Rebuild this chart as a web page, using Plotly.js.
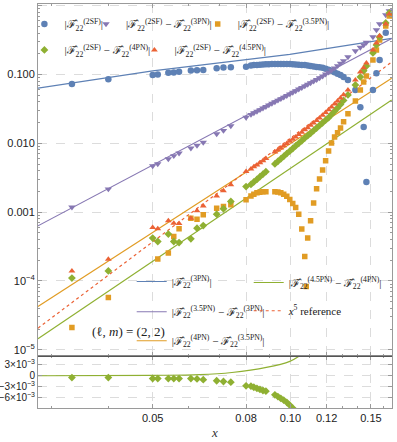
<!DOCTYPE html>
<html>
<head>
<meta charset="utf-8">
<script src="https://cdn.plot.ly/plotly-3.0.1.min.js"></script>
<style>
  html, body { margin: 0; padding: 0; background: #fff; }
  #chart { width: 397px; height: 442px; }
</style>
</head>
<body>
<div id="chart"></div>
<script>
// sample points of the self-force data (same x for every scatter series)
const xSF = [
  0.0333, 0.04, 0.05, 0.0513, 0.0541, 0.0556, 0.0571, 0.0606, 0.0625, 0.0645, 0.069, 0.0714, 0.0741, 0.08,
  0.082, 0.0832, 0.0845, 0.0858, 0.0871, 0.0884, 0.0897, 0.0911, 0.0925, 0.0939, 0.0953, 0.0967, 0.0982,
  0.0997, 0.1012, 0.1027, 0.1043, 0.1059, 0.1075, 0.1083, 0.1091, 0.1107, 0.1124, 0.1141, 0.1158, 0.1176,
  0.1194, 0.1212, 0.123, 0.1249, 0.1268, 0.1287, 0.1307,
  0.1336, 0.1387, 0.1422, 0.1446, 0.1466, 0.1515, 0.1542, 0.1567, 0.1616, 0.1645
];

// |F22(2SF)|
const abs2SF = [
  0.073, 0.0853, 0.098, 0.100, 0.106, 0.107, 0.110, 0.114, 0.115, 0.116, 0.123, 0.126, 0.127, 0.130,
  0.135, 0.137, 0.138, 0.139, 0.140, 0.141, 0.141, 0.142, 0.142, 0.142, 0.142, 0.142, 0.142,
  0.142, 0.141, 0.140, 0.139, 0.138, 0.137, null, 0.135, 0.133, 0.131, 0.129, 0.127, 0.125,
  0.121, 0.117, 0.113, 0.108, 0.103, 0.098, 0.092,
  0.0834, 0.0597, 0.0335, 0.0172, 0.00273, 0.0597, 0.104, 0.163, 0.405, null
];

// |F22(2SF) - F22(3PN)|
const diff3PN = [
  0.00118, 0.00216, 0.0047, 0.00502, 0.00594, 0.00657, 0.00719, 0.0085, 0.00933, 0.0103, 0.0137, 0.0153, 0.0179, 0.0238,
  0.0262, 0.0276, 0.0291, 0.0307, 0.0324, 0.0340, 0.0359, 0.0379, 0.0400, 0.0421, 0.0443, 0.0467, 0.0493,
  0.0520, 0.0549, 0.0577, 0.0611, 0.0644, 0.0680, null, 0.0717, 0.0754, 0.0796, 0.0842, 0.0891, 0.0947,
  0.1009, 0.1078, 0.1153, 0.1241, 0.1340, 0.1452, 0.1579,
  0.180, 0.220, 0.247, 0.269, 0.292, 0.351, 0.444, 0.542, 0.733, 0.838
];

// |F22(2SF) - F22(3.5PN)|
const diff35PN = [
  2.11e-5, 5.75e-5, null, 2.08e-4, 2.54e-4, 4.42e-4, 5.71e-4, 8.18e-4, 7.91e-4, 9.14e-4, 1.14e-3, 1.21e-3, 1.28e-3, 1.51e-3,
  0.00172, 0.00182, 0.00191, 0.00195, 0.00197, 0.00198, null, null, 0.00198, 0.00196, 0.00191, 0.00182, 0.00170,
  0.00153, 0.00134, 0.00117, 0.00093, 0.00057, 0.000226, 0.000083, 0.00042, 0.000747, 0.00136, 0.00218, 0.00304, 0.00411,
  0.00556, 0.00776, 0.0101, 0.0124, 0.0142, 0.0167, 0.0205,
  0.0268, 0.0413, 0.0597, 0.078, 0.0953, 0.163, 0.227, 0.318, 0.507, 0.709
];

// |F22(2SF) - F22(4PN)|
const diff4PN = [
  1.10e-4, 1.40e-4, 4.19e-4, 3.74e-4, 4.79e-4, 3.74e-4, 3.61e-4, 4.09e-4, 5.85e-4, 6.38e-4, 9.35e-4, 1.12e-3, 1.43e-3, 2.35e-3,
  0.00253, 0.00275, 0.00299, 0.00327, 0.00356, 0.00387, null, null, 0.00502, 0.00548, 0.00596, 0.00648, 0.00709,
  0.00771, 0.00841, 0.00915, 0.0100, 0.0109, 0.0119, null, 0.0129, 0.0140, 0.0153, 0.0167, 0.0182, 0.0199,
  0.0217, 0.0236, 0.0263, 0.0293, 0.0327, 0.0367, 0.0420,
  0.0505, 0.0705, 0.0922, 0.113, 0.133, 0.206, 0.269, 0.351, 0.561, 0.783
];

// |F22(2SF) - F22(4.5PN)|
const diff45PN = [
  1.40e-4, 2.07e-4, 5.97e-4, 5.71e-4, 7.47e-4, 6.91e-4, 6.83e-4, 8.18e-4, 1.05e-3, 1.23e-3, 1.72e-3, 2.04e-3, 2.49e-3, 3.88e-3,
  0.00425, 0.00455, 0.00486, 0.0052, 0.00559, 0.0060, null, null, 0.00746, 0.00802, 0.00858, 0.00924, 0.00994,
  0.0107, 0.0115, 0.0124, 0.0134, 0.0145, 0.0157, null, 0.0169, 0.0183, 0.0198, 0.0215, 0.0234, 0.0256,
  0.0280, 0.0308, 0.0338, 0.0374, 0.0413, 0.0457, 0.0508,
  0.0597, 0.0834, 0.109, 0.125, 0.147, 0.227, 0.287, 0.363, 0.542, 0.758
];

// lower panel: residual of the 4PN comparison
const resid4PN = [
  -0.0005, -0.0005, -0.0008, -0.0008, -0.0008, -0.0008, -0.0008, -0.0008, -0.0009, -0.0011, -0.0014, -0.0016, -0.0018, -0.0028,
  -0.0029, -0.0032, -0.0035, -0.0038, -0.0041, -0.0043, null, null, -0.0053, -0.0058, -0.0063, -0.0068, -0.0074,
  -0.0082, -0.0090, -0.0099
];

// PN curves
const xPN = [0.02807, 0.05, 0.0997, 0.1665];
const abs3PN = [0.0632, 0.1126, 0.1956, 0.336];
const xEnds = [0.02807, 0.1665];
const pn35minus3 = [6.32e-4, 0.334];
const pn4minus35 = [4.26e-5, 0.0883];
const pn45minus4 = [1.45e-5, 0.0427];
const x5ref = [2.06e-5, 0.152];

const xResPN = [0.02807, 0.05, 0.0633, 0.0745, 0.0886, 0.0997, 0.104, 0.108];
const resPN = [0, 0.0001, 0.0003, 0.0009, 0.0023, 0.0040, 0.0053, 0.0068];

const blue = '#5E81B5', orange = '#E19C24', green = '#8FB032', red = '#EB6235', purple = '#8778B3';

const F = '\u2131\u0302';
function F22(tag) { return F + '<sub>22</sub><sup>(' + tag + ')</sup>'; }
function absd(a, b) { return '|' + F22(a) + (b ? ' \u2212 ' + F22(b) : '') + '|'; }

function pts(y, name, color, symbol, size, leg) {
  return {
    x: xSF, y: y, name: name, type: 'scatter', mode: 'markers',
    marker: { color: color, symbol: symbol, size: size, line: { width: 0 } },
    xaxis: 'x', yaxis: 'y', legend: leg
  };
}
function curve(x, y, name, color, dash, leg) {
  return {
    x: x, y: y, name: name, type: 'scatter', mode: 'lines',
    line: { color: color, width: 1.2, dash: dash || 'solid' },
    xaxis: 'x', yaxis: 'y', legend: leg
  };
}

const data = [
  curve(xPN, abs3PN, absd('3PN'), blue, null, 'legend6'),
  curve(xEnds, pn35minus3, absd('3.5PN', '3PN'), purple, null, 'legend7'),
  curve(xEnds, pn4minus35, absd('4PN', '3.5PN'), orange, null, 'legend8'),
  curve(xEnds, pn45minus4, absd('4.5PN', '4PN'), green, null, 'legend9'),
  curve(xEnds, x5ref, '<i>x</i><sup>5</sup> reference', red, 'dot', 'legend10'),
  pts(abs2SF, absd('2SF'), blue, 'circle', 6.5, 'legend'),
  pts(diff3PN, absd('2SF', '3PN'), purple, 'triangle-down', 6.5, 'legend2'),
  pts(diff35PN, absd('2SF', '3.5PN'), orange, 'square', 5.5, 'legend3'),
  pts(diff4PN, absd('2SF', '4PN'), green, 'diamond', 6, 'legend4'),
  pts(diff45PN, absd('2SF', '4.5PN'), red, 'triangle-up', 6, 'legend5'),
  {
    x: xResPN, y: resPN, type: 'scatter', mode: 'lines', line: { color: green, width: 1.2, shape: 'spline' },
    xaxis: 'x2', yaxis: 'y2', showlegend: false
  },
  {
    x: xSF.slice(0, resid4PN.length), y: resid4PN, type: 'scatter', mode: 'markers',
    marker: { color: green, symbol: 'diamond', size: 6 },
    xaxis: 'x2', yaxis: 'y2', showlegend: false
  }
];

const tickFont = { family: 'Liberation Sans, Arial, sans-serif', size: 11, color: '#222' };
const frame = '#9a9a9a';
const xMajor = [0.05, 0.08, 0.1, 0.12, 0.15];
const xMinor = [0.03, 0.04, 0.06, 0.07, 0.09, 0.11, 0.13, 0.14, 0.16];
const yMinor = [];
[1e-5, 1e-4, 1e-3, 1e-2, 1e-1].forEach(function (d) {
  for (let k = 2; k <= 9; k++) yMinor.push(k * d);
});

function xAxis(anchor, labels) {
  return {
    type: 'log', range: [-1.5517, -0.7779], autorange: false, anchor: anchor,
    tickmode: 'array', tickvals: xMajor, ticktext: ['0.05', '0.08', '0.10', '0.12', '0.15'],
    showticklabels: labels, tickfont: tickFont,
    ticks: 'inside', ticklen: 4, tickcolor: frame,
    minor: { tickmode: 'array', tickvals: xMinor, ticks: 'inside', ticklen: 2, tickcolor: frame, showgrid: false },
    showgrid: true, gridcolor: '#dcdcdc', griddash: 'dash', gridwidth: 1,
    showline: true, linecolor: frame, linewidth: 1, mirror: 'ticks', zeroline: false
  };
}

// one legend box per entry, placed where the reference has it (pixel position of the box's left edge / middle)
function legBox(left, mid) {
  return {
    x: (left - 38.3) / 354, y: (408.3 - mid) / 404.3, xanchor: 'left', yanchor: 'middle',
    orientation: 'v', bgcolor: 'rgba(255,255,255,0)', font: { size: 11 }, itemwidth: 30
  };
}

const layout = {
  width: 397, height: 442,
  margin: { l: 38, r: 5, t: 4, b: 34 },
  paper_bgcolor: '#fff', plot_bgcolor: '#fff',
  font: { family: 'Liberation Serif, DejaVu Serif, serif', size: 12, color: '#222' },
  xaxis: xAxis('y', false),
  xaxis2: Object.assign(xAxis('y2', true), {
    title: { text: '<i>x</i>', font: { family: 'Liberation Serif, serif', size: 13, color: '#333' }, standoff: 4 }
  }),
  yaxis: {
    type: 'log', domain: [0.1276, 1], range: [-5.0974, 0.0247], anchor: 'x',
    tickmode: 'array', tickvals: [1, 0.1, 0.01, 0.001, 1e-4, 1e-5],
    ticktext: ['1', '0.100', '0.010', '0.001', '10<sup>\u22124</sup>', '10<sup>\u22125</sup>'],
    tickfont: tickFont, ticks: 'inside', ticklen: 4, tickcolor: frame,
    minor: { tickmode: 'array', tickvals: yMinor, ticks: 'inside', ticklen: 2, tickcolor: frame, showgrid: false },
    showgrid: true, gridcolor: '#dcdcdc', griddash: 'dash',
    showline: true, linecolor: frame, mirror: 'ticks', zeroline: false
  },
  yaxis2: {
    domain: [0, 0.1276], range: [-0.00897, 0.00536], anchor: 'x2',
    tickmode: 'array', tickvals: [0.003, 0, -0.003, -0.006],
    ticktext: ['3\u00d710<sup>\u22123</sup>', '0', '\u22123\u00d710<sup>\u22123</sup>', '\u22126\u00d710<sup>\u22123</sup>'],
    tickfont: { family: 'Liberation Sans, Arial, sans-serif', size: 10, color: '#222' },
    ticks: 'inside', ticklen: 4, tickcolor: frame,
    showgrid: true, gridcolor: '#dcdcdc', griddash: 'dash',
    showline: true, linecolor: frame, mirror: 'ticks', zeroline: false
  },
  legend: legBox(24.7, 24),
  legend2: legBox(86.3, 24),
  legend3: legBox(198, 24),
  legend4: legBox(24.7, 50),
  legend5: legBox(134.7, 50),
  legend6: legBox(132, 281.7),
  legend7: legBox(132, 312),
  legend8: legBox(132, 341),
  legend9: legBox(249, 282.7),
  legend10: legBox(249, 311),
  annotations: [{
    xref: 'paper', yref: 'paper', x: 0.146, y: 0.167, showarrow: false,
    text: '(\u2113, <i>m</i>) = (2, 2)', font: { size: 13, color: '#222' }
  }],
  shapes: [{
    type: 'line', xref: 'paper', yref: 'paper', x0: 0, x1: 1, y0: 0.1276, y1: 0.1276,
    line: { color: '#555', width: 1.2 }
  }],
  showlegend: true
};

Plotly.newPlot('chart', data, layout, { displayModeBar: false, staticPlot: true });
</script>
</body>
</html>
